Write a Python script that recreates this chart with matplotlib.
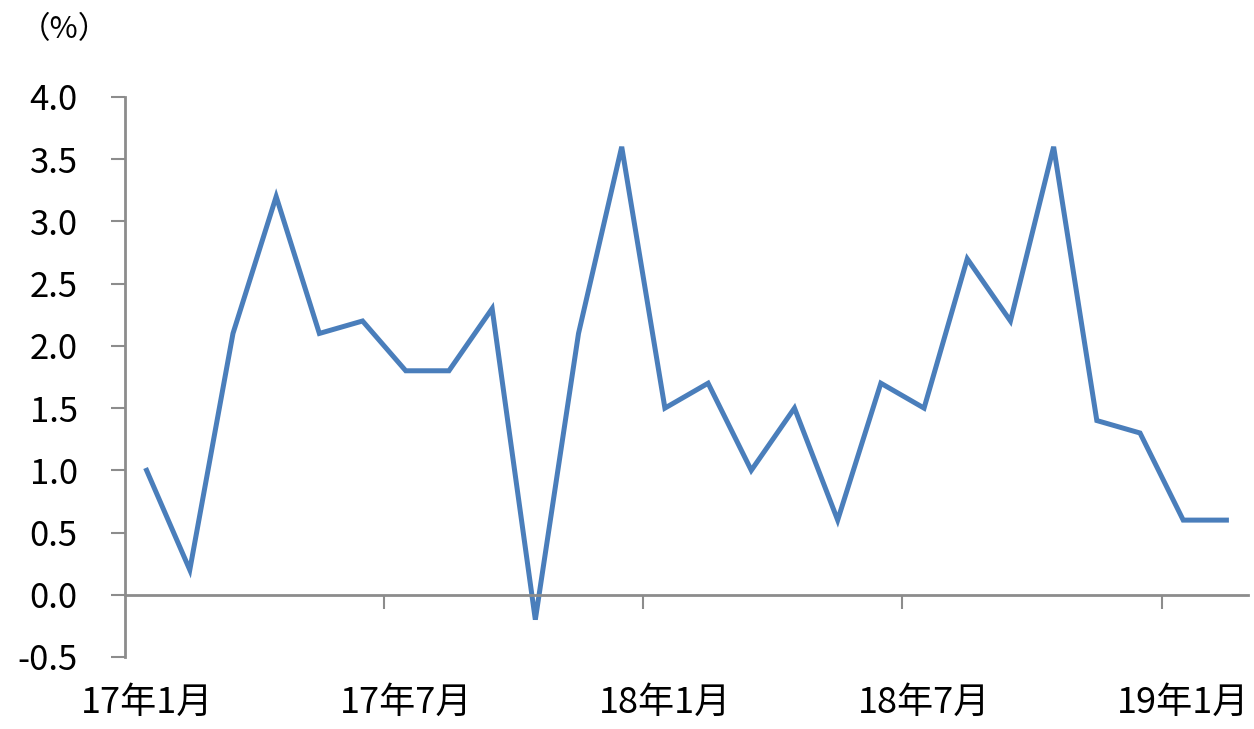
import matplotlib
matplotlib.use("Agg")
import matplotlib.pyplot as plt

plt.rcParams["font.family"] = ["Noto Sans CJK SC", "DejaVu Sans"]

# data
months = ["17年1月", "17年2月", "17年3月", "17年4月", "17年5月", "17年6月",
          "17年7月", "17年8月", "17年9月", "17年10月", "17年11月", "17年12月",
          "18年1月", "18年2月", "18年3月", "18年4月", "18年5月", "18年6月",
          "18年7月", "18年8月", "18年9月", "18年10月", "18年11月", "18年12月",
          "19年1月", "19年2月"]
values = [1.0, 0.2, 2.1, 3.2, 2.1, 2.2, 1.8, 1.8, 2.3, -0.2, 2.1, 3.6,
          1.5, 1.7, 1.0, 1.5, 0.6, 1.7, 1.5, 2.7, 2.2, 3.6, 1.4, 1.3,
          0.6, 0.6]
yticks = [-0.5, 0.0, 0.5, 1.0, 1.5, 2.0, 2.5, 3.0, 3.5, 4.0]

C_LINE = "#4A7EBB"
C_AXIS = "#8C8C8C"

W, H = 1254, 729
fig = plt.figure(figsize=(W / 100, H / 100), dpi=100)
ax = fig.add_axes([125 / W, (H - 657) / H, (1248 - 125) / W, (657 - 97) / H])

x = list(range(len(values)))
ax.plot(x, values, color=C_LINE, lw=3.6, solid_joinstyle="miter")

ax.set_xlim(-0.5, len(values) - 0.5)
ax.set_ylim(-0.5, 4.0)
ax.set_yticks(yticks)
ax.set_yticklabels([f"{v:.1f}" for v in yticks], fontsize=25)
ax.tick_params(axis="y", length=10, width=1.5, color=C_AXIS, pad=24)

for s in ["top", "right"]:
    ax.spines[s].set_visible(False)
ax.spines["left"].set_color(C_AXIS)
ax.spines["left"].set_linewidth(2)
ax.spines["bottom"].set_position(("data", 0))
ax.spines["bottom"].set_color(C_AXIS)
ax.spines["bottom"].set_linewidth(2)

# tick marks on the zero line at half-year boundaries
ax.set_xticks([i - 0.5 for i in range(6, len(values), 6)])
ax.set_xticklabels([])
ax.tick_params(axis="x", length=10, width=1.5, color=C_AXIS, direction="out")

# labels along the bottom
lab_idx = list(range(0, len(values), 6))
sec = ax.secondary_xaxis("bottom")
sec.set_xticks(lab_idx)
sec.set_xticklabels([months[i] for i in lab_idx], fontsize=26)
sec.tick_params(length=0, pad=20)
sec.spines["bottom"].set_visible(False)

fig.text(20 / W, 1 - 30 / H, "（%）", fontsize=22, va="center", ha="left")

fig.savefig("out.png", dpi=100)
